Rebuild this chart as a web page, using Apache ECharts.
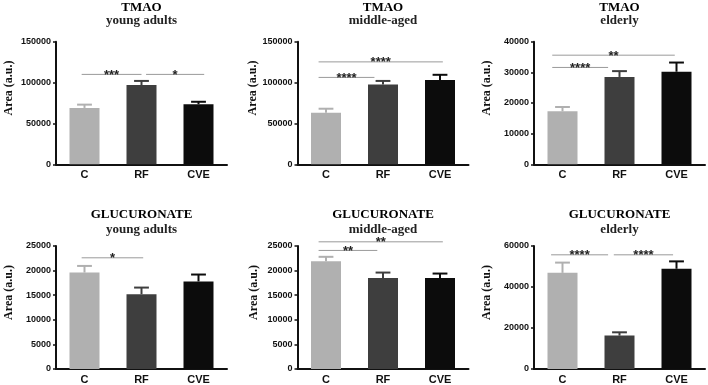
<!DOCTYPE html>
<html>
<head>
<meta charset="utf-8">
<script src="https://cdn.jsdelivr.net/npm/echarts@6/dist/echarts.min.js"></script>
<style>
  html, body { margin: 0; padding: 0; background: #fff; }
  #chart { width: 708px; height: 385px; }
</style>
</head>
<body>
<div id="chart"></div>
<script>
const categories = ['C', 'RF', 'CVE']
const metabolites = ['TMAO', 'TMAO', 'TMAO', 'GLUCURONATE', 'GLUCURONATE', 'GLUCURONATE']
const ageGroups = ['young adults', 'middle-aged', 'elderly', 'young adults', 'middle-aged', 'elderly']
const yMaxes = [150000, 150000, 40000, 25000, 25000, 60000]
const yIntervals = [50000, 50000, 10000, 5000, 5000, 20000]

// mean and upper error (SEM) per group
const tmaoMean = [[69000, 97000, 73500], [63000, 97500, 103000], [17300, 28500, 30200]]
const tmaoErr = [[4000, 5000, 3000], [5000, 4500, 6500], [1400, 1900, 3000]]
const glucMean = [[19600, 15200, 17800], [21900, 18500, 18500], [46900, 16300, 48900]]
const glucErr = [[1350, 1350, 1400], [900, 1100, 900], [5000, 1600, 3600]]

// significance: [from (category pos), to (category pos), height, stars]
const tmaoSig = [
  [[-0.05, 1.0, 110000, '***'], [1.08, 2.1, 110000, '*']],
  [[-0.13, 0.85, 106300, '****'], [-0.13, 2.05, 125300, '****']],
  [[-0.18, 0.8, 31600, '****'], [-0.18, 1.97, 35600, '**']]
]
const glucSig = [
  [[-0.05, 1.03, 22600, '*']],
  [[-0.13, 0.9, 24100, '**'], [-0.13, 2.05, 25850, '**']],
  [[-0.2, 0.8, 55700, '****'], [0.9, 1.94, 55700, '****']]
]

const means = [...tmaoMean, ...glucMean]
const errs = [...tmaoErr, ...glucErr]
const sigs = [...tmaoSig, ...glucSig]

const barColors = ['#b0b0b0', '#3e3e3e', '#0c0c0c']
const serif = '"Liberation Serif", "Times New Roman", serif'
const sans = '"Liberation Sans", Arial, sans-serif'
const lefts = [56, 297.5, 534]
const tops = [41.7, 246]
const heights = [122.6, 124.5]
const gridW = 171

const chart = echarts.init(document.getElementById('chart'))

const grids = []
const xAxes = []
const yAxes = []
const titles = []
const series = []

for (let p = 0; p < 6; p++) {
  const row = Math.floor(p / 3)
  const left = lefts[p % 3]
  const top = tops[row]
  grids.push({ left, top, width: gridW, height: heights[row] })
  titles.push({
    text: metabolites[p],
    subtext: ageGroups[p],
    left: left + gridW / 2,
    top: row === 0 ? 1 : 208,
    textAlign: 'center',
    padding: 0,
    itemGap: row === 0 ? 0 : 2,
    textStyle: { fontFamily: serif, fontWeight: 'bold', fontSize: 13, color: '#000' },
    subtextStyle: { fontFamily: serif, fontWeight: 'bold', fontSize: 13, color: '#222' }
  })
  xAxes.push({
    type: 'category',
    gridIndex: p,
    data: categories,
    axisLine: { lineStyle: { color: '#111', width: 2 } },
    axisTick: { alignWithLabel: true, length: 3, lineStyle: { color: '#111', width: 1.5 } },
    axisLabel: { fontFamily: sans, fontWeight: 'bold', fontSize: 11, color: '#111', margin: 5 }
  })
  yAxes.push({
    type: 'value',
    gridIndex: p,
    min: 0,
    max: yMaxes[p],
    interval: yIntervals[p],
    name: 'Area (a.u.)',
    nameLocation: 'middle',
    nameGap: p % 3 === 1 ? 38 : 41,
    nameTextStyle: { fontFamily: serif, fontWeight: 'bold', fontSize: 12, color: '#111', padding: [0, 0, 0, 30] },
    axisLine: { show: true, lineStyle: { color: '#111', width: 2 } },
    axisTick: { show: true, length: 3, lineStyle: { color: '#111', width: 1.5 } },
    axisLabel: { fontFamily: sans, fontWeight: 'bold', fontSize: 9, color: '#111', margin: 5, formatter: v => String(v) },
    splitLine: { show: false }
  })

  series.push({
    type: 'bar',
    xAxisIndex: p,
    yAxisIndex: p,
    barWidth: 30,
    data: means[p].map((v, i) => ({ value: v, itemStyle: { color: barColors[i] } }))
  })

  series.push({
    type: 'custom',
    xAxisIndex: p,
    yAxisIndex: p,
    z: 3,
    data: means[p].map((v, i) => [i, v, errs[p][i]]),
    renderItem (params, api) {
      const idx = api.value(0)
      const mean = api.value(1)
      const base = api.coord([idx, mean])
      const top = api.coord([idx, mean + api.value(2)])
      const half = api.size([1, 0])[0] * 0.13
      const style = { stroke: barColors[idx], lineWidth: 2 }
      return {
        type: 'group',
        children: [
          { type: 'line', shape: { x1: base[0], y1: base[1], x2: top[0], y2: top[1] }, style },
          { type: 'line', shape: { x1: top[0] - half, y1: top[1], x2: top[0] + half, y2: top[1] }, style }
        ]
      }
    }
  })

  const sig = sigs[p]
  series.push({
    type: 'custom',
    xAxisIndex: p,
    yAxisIndex: p,
    z: 4,
    clip: false,
    data: sig.map(s => [0, s[2]]),
    renderItem (params, api) {
      const s = sig[params.dataIndex]
      const band = api.size([1, 0])[0]
      const c0 = api.coord([0, api.value(1)])
      const x1 = c0[0] + s[0] * band
      const x2 = c0[0] + s[1] * band
      const y = c0[1]
      return {
        type: 'group',
        children: [
          { type: 'line', shape: { x1, y1: y, x2, y2: y }, style: { stroke: '#9a9a9a', lineWidth: 1 } },
          {
            type: 'text',
            x: (x1 + x2) / 2,
            y: y + 1,
            style: { text: s[3], fill: '#222', font: 'bold 13px ' + sans, align: 'center', verticalAlign: 'middle' }
          }
        ]
      }
    }
  })
}

chart.setOption({
  animation: false,
  backgroundColor: '#fff',
  title: titles,
  grid: grids,
  xAxis: xAxes,
  yAxis: yAxes,
  series
})
</script>
</body>
</html>
